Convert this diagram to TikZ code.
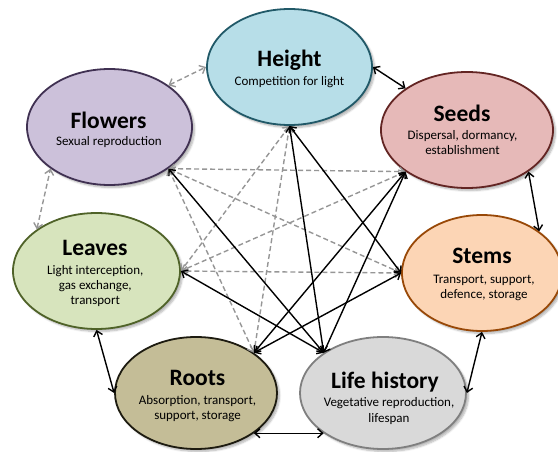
\documentclass[tikz,border=0pt]{standalone}
\usepackage{fontspec}
\setmainfont{Carlito}
\usetikzlibrary{shapes.geometric,arrows.meta,shadows.blur}

\definecolor{hfill}{RGB}{183,222,232}  \definecolor{hdraw}{RGB}{33,89,104}
\definecolor{ffill}{RGB}{204,193,218}  \definecolor{fdraw}{RGB}{64,49,82}
\definecolor{sfill}{RGB}{230,185,184}  \definecolor{sdraw}{RGB}{99,37,35}
\definecolor{lfill}{RGB}{215,228,189}  \definecolor{ldraw}{RGB}{79,98,40}
\definecolor{tfill}{RGB}{252,213,181}  \definecolor{tdraw}{RGB}{152,72,7}
\definecolor{rfill}{RGB}{196,189,151}  \definecolor{rdraw}{RGB}{29,27,16}
\definecolor{yfill}{RGB}{217,217,217}  \definecolor{ydraw}{RGB}{127,127,127}
\definecolor{dashgray}{RGB}{150,150,150}

\begin{document}
\begin{tikzpicture}[x=1pt,y=-1pt,
  trait/.style={ellipse, draw, line width=1.8pt, inner sep=0pt,
    blur shadow={shadow xshift=2.5pt, shadow yshift=-2.5pt,
                 shadow blur steps=6, shadow opacity=30}},
  ttl/.style={font=\fontsize{23.5}{26}\selectfont\bfseries, anchor=base, inner sep=0pt},
  % multi-line labels are placed by the baseline of their last line
  sub/.style={font=\fontsize{13}{15.3}\selectfont, anchor=base, align=center, inner sep=0pt},
  link/.style={line width=1.4pt, black, {Straight Barb[length=5pt,width=9pt]}-{Straight Barb[length=5pt,width=9pt]}},
  weak/.style={line width=1.4pt, dashgray, dash pattern=on 5pt off 3pt,
    {Straight Barb[length=5pt,width=9pt]}-{Straight Barb[length=5pt,width=9pt]}}
]
\useasboundingbox (0,0) rectangle (558,452);

% trait ellipses
\node[trait, fill=hfill, draw=hdraw, minimum width=165pt, minimum height=116pt] (H)  at (289.5,67) {};
\node[trait, fill=ffill, draw=fdraw, minimum width=165pt, minimum height=116pt] (F)  at (109.5,127) {};
\node[trait, fill=sfill, draw=sdraw, minimum width=172pt, minimum height=116pt] (S)  at (467,130) {};
\node[trait, fill=lfill, draw=ldraw, minimum width=167pt, minimum height=116pt] (L)  at (96.5,271) {};
\node[trait, fill=tfill, draw=tdraw, minimum width=160pt, minimum height=116pt] (St) at (482,273) {};
\node[trait, fill=rfill, draw=rdraw, minimum width=162pt, minimum height=112pt] (R)  at (196,393) {};
\node[trait, fill=yfill, draw=ydraw, minimum width=166pt, minimum height=112pt] (LH) at (383,393) {};

% labels
\node[ttl] (Ht) at (289.5,67) {Height};
\node[sub] (Hs) at (289.5,86) {Competition for light};
\node[ttl] (Ft) at (108.5,129) {Flowers};
\node[sub] (Fs) at (109,146) {Sexual reproduction};
\node[ttl] (St-t) at (462,121.5) {Seeds};
\node[sub] (Ss) at (462.5,155) {Dispersal, dormancy,\\establishment};
\node[ttl] (Lt) at (95,255) {Leaves};
\node[sub] (Ls) at (95.3,305) {Light interception,\\gas exchange,\\transport};
\node[ttl] (Tt) at (482,263.3) {Stems};
\node[sub] (Ts) at (484,298.5) {Transport, support,\\defence, storage};
\node[ttl] (Rt) at (197.5,385) {Roots};
\node[sub] (Rs) at (197.5,419.5) {Absorption, transport,\\support, storage};
\node[ttl] (Yt) at (385,388.3) {Life history};
\node[sub] (Ys) at (389,422) {Vegetative reproduction,\\lifespan};

% links around the ring
\draw[link] (H.east) -- (S.north west);
\draw[link] (S.south east) -- (St.north east);
\draw[link] (St.south) -- (LH.east);
\draw[link] (LH.south west) -- (R.south east);
\draw[link] (R.west) -- (L.south);
\draw[weak] (L.north west) -- (F.south west);
\draw[weak] (F.north east) -- (H.west);

% weak links across the ring
\draw[weak] (F.south east) -- (S.south west);
\draw[weak] (F.south east) -- (St.west);
\draw[weak] (F.south east) -- (R.north east);
\draw[weak] (H.south) -- (L.east);
\draw[weak] (H.south) -- (R.north east);
\draw[weak] (S.south west) -- (L.east);
\draw[weak] (St.west) -- (L.east);

% strong links across the ring
\draw[link] (F.south east) -- (LH.north west);
\draw[link] (H.south) -- (LH.north west);
\draw[link] (H.south) -- (St.west);
\draw[link] (S.south west) -- (R.north east);
\draw[link] (S.south west) -- (LH.north west);
\draw[link] (St.west) -- (R.north east);
\draw[link] (L.east) -- (LH.north west);
\end{tikzpicture}
\end{document}
